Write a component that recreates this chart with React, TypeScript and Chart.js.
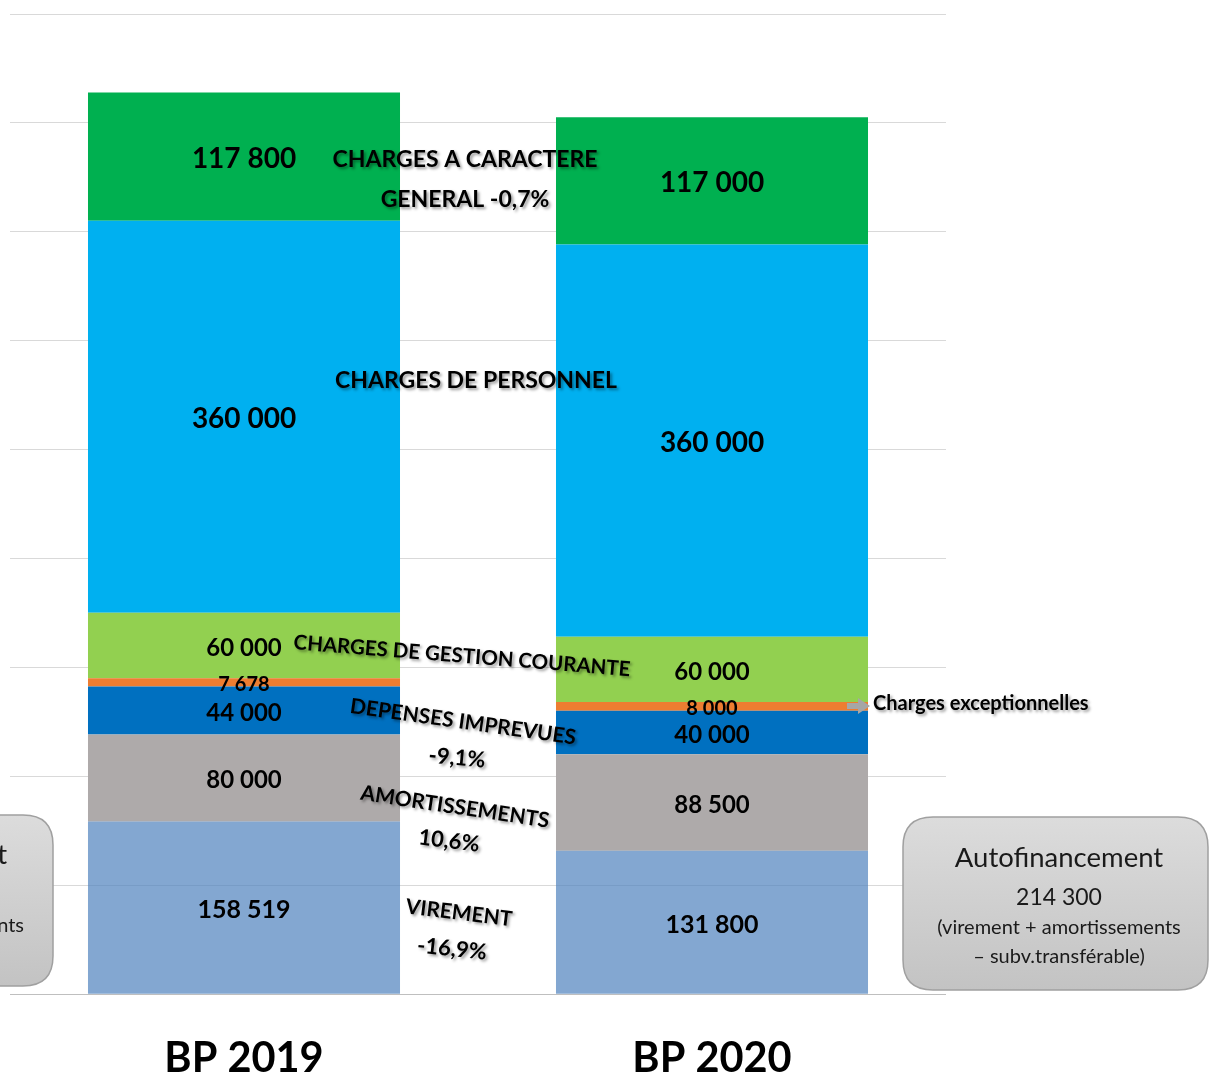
import { useEffect, useRef } from "react";
import { Chart, registerables } from "chart.js";

Chart.register(...registerables);

const categories = ["BP 2019", "BP 2020"];
const virement = [158519, 131800];
const amortissements = [80000, 88500];
const depensesImprevues = [44000, 40000];
const chargesExceptionnelles = [7678, 8000];
const chargesGestionCourante = [60000, 60000];
const chargesPersonnel = [360000, 360000];
const chargesCaractereGeneral = [117800, 117000];

const yMin = 0;
const yMax = 900000;
const yStep = 100000;

const seriesNames = [
  "Virement",
  "Amortissements",
  "Dépenses imprévues",
  "Charges exceptionnelles",
  "Charges de gestion courante",
  "Charges de personnel",
  "Charges à caractère général",
];

const seriesColors = [
  "rgba(79,129,189,0.7)",
  "#AEAAAA",
  "#0070C0",
  "#ED7D31",
  "#92D050",
  "#00B0F0",
  "#00B050",
];

const labelSizes = [25, 24, 24, 20, 24, 28, 28];

const annotations = [
  { text: "CHARGES A CARACTERE", x: 465, y: 160, a: 0, s: 23 },
  { text: "GENERAL -0,7%", x: 465, y: 200, a: 0, s: 23 },
  { text: "CHARGES DE PERSONNEL", x: 476, y: 381, a: 0, s: 23 },
  { text: "CHARGES DE GESTION COURANTE", x: 462, y: 656, a: 4.6, s: 20.5 },
  { text: "DEPENSES IMPREVUES", x: 463, y: 722, a: 8, s: 21 },
  { text: "-9,1%", x: 457, y: 758, a: 5, s: 22 },
  { text: "AMORTISSEMENTS", x: 455, y: 807, a: 8.5, s: 21 },
  { text: "10,6%", x: 449, y: 841, a: 7, s: 22 },
  { text: "VIREMENT", x: 459, y: 913, a: 7, s: 21 },
  { text: "-16,9%", x: 452, y: 949, a: 6, s: 22 },
];

const fmt = (n: number) => String(n).replace(/\B(?=(\d{3})+(?!\d))/g, " ");

function roundRectPath(ctx: CanvasRenderingContext2D, x: number, y: number, w: number, h: number, r: number) {
  ctx.beginPath();
  ctx.moveTo(x + r, y);
  ctx.lineTo(x + w - r, y);
  ctx.quadraticCurveTo(x + w, y, x + w, y + r);
  ctx.lineTo(x + w, y + h - r);
  ctx.quadraticCurveTo(x + w, y + h, x + w - r, y + h);
  ctx.lineTo(x + r, y + h);
  ctx.quadraticCurveTo(x, y + h, x, y + h - r);
  ctx.lineTo(x, y + r);
  ctx.quadraticCurveTo(x, y, x + r, y);
  ctx.closePath();
}

function drawBox(ctx: CanvasRenderingContext2D, x: number, y: number, w: number, h: number) {
  ctx.save();
  const g = ctx.createLinearGradient(0, y, 0, y + h);
  g.addColorStop(0, "#dcdcdc");
  g.addColorStop(1, "#c3c3c3");
  roundRectPath(ctx, x, y, w, h, 30);
  ctx.fillStyle = g;
  ctx.fill();
  ctx.strokeStyle = "#a0a0a0";
  ctx.lineWidth = 1.5;
  ctx.stroke();
  ctx.restore();
}

const labelPlugin = {
  id: "segmentLabels",
  afterDatasetsDraw(chart: any) {
    const ctx: CanvasRenderingContext2D = chart.ctx;
    chart.data.datasets.forEach((ds: any, i: number) => {
      const meta = chart.getDatasetMeta(i);
      meta.data.forEach((el: any, j: number) => {
        const { x, y, base } = el.getProps(["x", "y", "base"], true);
        ctx.save();
        ctx.font = `bold ${labelSizes[i]}px Lato`;
        ctx.fillStyle = "#000";
        ctx.textAlign = "center";
        ctx.textBaseline = "middle";
        ctx.fillText(fmt(ds.data[j]), x, (y + base) / 2 + 2.5);
        ctx.restore();
      });
    });
  },
  afterDraw(chart: any) {
    const ctx: CanvasRenderingContext2D = chart.ctx;
    annotations.forEach((an) => {
      ctx.save();
      ctx.translate(an.x, an.y);
      ctx.rotate((an.a * Math.PI) / 180);
      ctx.font = `bold ${an.s}px Lato`;
      ctx.textAlign = "center";
      ctx.textBaseline = "middle";
      ctx.shadowColor = "rgba(0,0,0,0.4)";
      ctx.shadowBlur = 3;
      ctx.shadowOffsetX = 2;
      ctx.shadowOffsetY = 2;
      ctx.fillStyle = "#000";
      ctx.fillText(an.text, 0, 0);
      ctx.restore();
    });

    ctx.save();
    ctx.fillStyle = "#a6a6a6";
    ctx.beginPath();
    ctx.moveTo(847, 703);
    ctx.lineTo(858, 703);
    ctx.lineTo(858, 698);
    ctx.lineTo(870, 706);
    ctx.lineTo(858, 714);
    ctx.lineTo(858, 709);
    ctx.lineTo(847, 709);
    ctx.closePath();
    ctx.fill();
    ctx.font = "bold 20px Lato";
    ctx.textAlign = "left";
    ctx.textBaseline = "middle";
    ctx.shadowColor = "rgba(0,0,0,0.4)";
    ctx.shadowBlur = 3;
    ctx.shadowOffsetX = 2;
    ctx.shadowOffsetY = 2;
    ctx.fillStyle = "#000";
    ctx.fillText("Charges exceptionnelles", 873, 704);
    ctx.restore();

    drawBox(ctx, 903, 817, 305, 173);
    ctx.save();
    ctx.fillStyle = "#1a1a1a";
    ctx.textAlign = "center";
    ctx.textBaseline = "alphabetic";
    ctx.font = "27.5px Lato";
    ctx.fillText("Autofinancement", 1059, 867);
    ctx.font = "23px Lato";
    ctx.fillText("214 300", 1059, 905);
    ctx.font = "20px Lato";
    ctx.fillText("(virement + amortissements", 1059, 934);
    ctx.fillText("\u2013 subv.transférable)", 1059, 963);
    ctx.restore();

    drawBox(ctx, -253, 815, 306, 171);
    ctx.save();
    ctx.fillStyle = "#1a1a1a";
    ctx.textAlign = "right";
    ctx.textBaseline = "alphabetic";
    ctx.font = "27.5px Lato";
    ctx.fillText("Autofinancement", 7, 864);
    ctx.font = "20px Lato";
    ctx.fillText("(virement + amortissements", 24, 932);
    ctx.restore();
  },
};

export default function App() {
  const ref = useRef<HTMLCanvasElement | null>(null);
  useEffect(() => {
    document.body.style.margin = "0";
    document.body.style.overflow = "hidden";
    const seriesData = [
      virement,
      amortissements,
      depensesImprevues,
      chargesExceptionnelles,
      chargesGestionCourante,
      chargesPersonnel,
      chargesCaractereGeneral,
    ];
    const chart = new Chart(ref.current as HTMLCanvasElement, {
      type: "bar",
      data: {
        labels: categories,
        datasets: seriesData.map((d, i) => ({
          label: seriesNames[i],
          data: d,
          backgroundColor: seriesColors[i],
          borderWidth: 0,
          barPercentage: 0.6667,
          categoryPercentage: 1,
        })),
      },
      options: {
        animation: false,
        responsive: false,
        layout: { padding: { left: 10, right: 263, top: 14, bottom: 0 } },
        plugins: { legend: { display: false }, tooltip: { enabled: false } },
        scales: {
          x: {
            stacked: true,
            grid: { display: false, drawTicks: false },
            border: { display: false },
            ticks: {
              color: "#000",
              padding: 40,
              font: { family: "Lato", size: 41.5, weight: "bold" },
            },
          },
          y: {
            stacked: true,
            min: yMin,
            max: yMax,
            ticks: { display: false, stepSize: yStep },
            border: { display: false },
            grid: {
              drawTicks: false,
              color: (c: any) => (c.tick && c.tick.value === 0 ? "#bfbfbf" : "#d9d9d9"),
              lineWidth: 1,
            },
          },
        },
      },
      plugins: [labelPlugin],
    });
    return () => chart.destroy();
  }, []);
  return (
    <div style={{ position: "fixed", left: 0, top: 0, width: 1209, height: 1124, overflow: "hidden", background: "#fff" }}>
      <canvas ref={ref} width={1209} height={1124} />
    </div>
  );
}
